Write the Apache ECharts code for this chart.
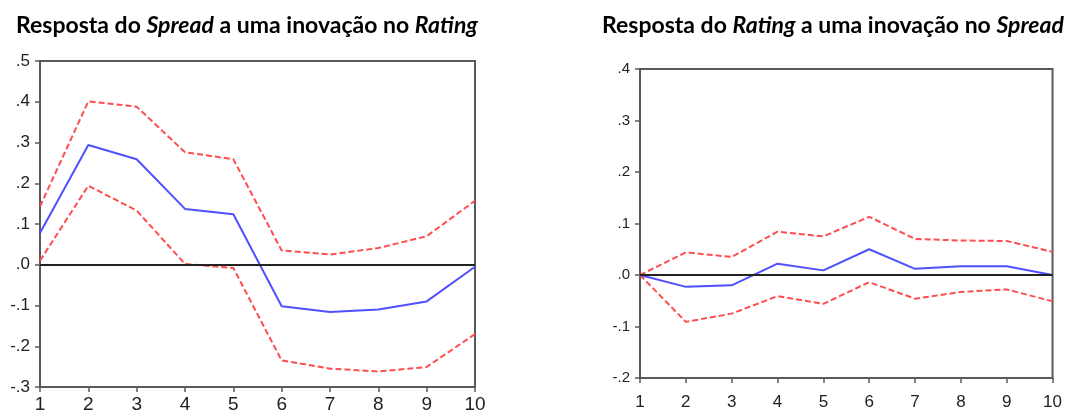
<!DOCTYPE html>
<html>
<head>
<meta charset="utf-8">
<script src="https://cdn.jsdelivr.net/npm/echarts@6/dist/echarts.min.js"></script>
<style>
html,body{margin:0;padding:0;background:#fff;}
#chart{width:1065px;height:414px;}
</style>
</head>
<body>
<div id="chart"></div>
<script>
// Horizons (periods)
const periods = ['1','2','3','4','5','6','7','8','9','10'];

// Left panel: response of Spread to a Rating innovation
const spreadResp  = [0.078, 0.294, 0.259, 0.137, 0.124, -0.102, -0.116, -0.110, -0.090, -0.005];
const spreadUpper = [0.143, 0.401, 0.388, 0.276, 0.259, 0.035, 0.025, 0.041, 0.070, 0.157];
const spreadLower = [0.010, 0.194, 0.133, 0.002, -0.008, -0.235, -0.255, -0.262, -0.251, -0.170];

// Right panel: response of Rating to a Spread innovation
const ratingResp  = [0.000, -0.023, -0.020, 0.022, 0.009, 0.050, 0.012, 0.017, 0.017, 0.000];
const ratingUpper = [0.000, 0.044, 0.035, 0.084, 0.075, 0.113, 0.070, 0.067, 0.066, 0.045];
const ratingLower = [0.000, -0.091, -0.075, -0.041, -0.056, -0.014, -0.046, -0.033, -0.028, -0.051];

// Axis ranges
const leftYMin = -0.3, leftYMax = 0.5;
const rightYMin = -0.2, rightYMax = 0.4;
const yStep = 0.1;

const titleLeft  = 'Resposta do {i|Spread} a uma inovação no {i|Rating}';
const titleRight = 'Resposta do {i|Rating} a uma inovação no {i|Spread}';

const BLUE = '#5050ff';
const RED = '#ff4d4d';
const AXIS = '#5a5a5a';
const LABEL = '#222';

function fmt(v){
  let s = (Math.round(v*10)/10).toFixed(1);
  if (s === '-0.0') s = '0.0';
  return s.replace('0.', '.');
}

const titleStyle = {
  fontFamily: 'Lato', fontWeight: 'bold', fontSize: 23, color: '#000',
  rich: { i: { fontFamily: 'Lato', fontWeight: 'bold', fontStyle: 'italic', fontSize: 23, color: '#000' } }
};

function xAxisCfg(gi, fs, margin){
  return {
    type: 'category', gridIndex: gi, data: periods, boundaryGap: false,
    axisLine: { show: true, onZero: false, lineStyle: { color: AXIS, width: 2 } },
    axisTick: { show: true, inside: false, length: 5, lineStyle: { color: AXIS, width: 1.5 }, alignWithLabel: true },
    axisLabel: { show: true, color: LABEL, fontSize: fs, fontFamily: 'Liberation Sans', margin: margin, interval: 0 },
    splitLine: { show: false }
  };
}
function yAxisCfg(gi, min, max, fs){
  return {
    type: 'value', gridIndex: gi, min: min, max: max, interval: yStep,
    axisLine: { show: true, onZero: false, lineStyle: { color: AXIS, width: 2 } },
    axisTick: { show: true, inside: false, length: 5, lineStyle: { color: AXIS, width: 1.5 } },
    axisLabel: { show: true, color: LABEL, fontSize: fs, fontFamily: 'Liberation Sans', margin: 10, formatter: fmt },
    splitLine: { show: false }
  };
}
function lineSeries(xi, data, color, dashed, z){
  return {
    type: 'line', xAxisIndex: xi, yAxisIndex: xi, data: data,
    symbol: 'none', smooth: false, silent: true, z: z,
    lineStyle: { color: color, width: 2, type: dashed ? [6, 3] : 'solid' },
    animation: false
  };
}
function zeroLine(xi){
  return {
    type: 'line', xAxisIndex: xi, yAxisIndex: xi, data: [], silent: true, z: 1,
    markLine: { silent: true, symbol: ['none','none'], label: { show: false },
      lineStyle: { color: '#222', width: 2, type: 'solid' }, data: [{ yAxis: 0 }], animation: false },
    animation: false
  };
}

const chart = echarts.init(document.getElementById('chart'), null, { renderer: 'canvas' });
chart.setOption({
  backgroundColor: '#fff',
  animation: false,
  title: [
    { text: titleLeft, left: 11, top: 9, textStyle: titleStyle },
    { text: titleRight, left: 597, top: 9, textStyle: titleStyle }
  ],
  grid: [
    { left: 40, top: 61, width: 435, height: 326, show: true, borderColor: AXIS, borderWidth: 2, backgroundColor: '#fff' },
    { left: 640, top: 69, width: 414, height: 309, show: true, borderColor: AXIS, borderWidth: 2, backgroundColor: '#fff' }
  ],
  xAxis: [
    xAxisCfg(0, 19, 8),
    xAxisCfg(1, 17, 16)
  ],
  yAxis: [
    yAxisCfg(0, leftYMin, leftYMax, 17),
    yAxisCfg(1, rightYMin, rightYMax, 15)
  ],
  series: [
    zeroLine(0),
    lineSeries(0, spreadUpper, RED, true, 3),
    lineSeries(0, spreadLower, RED, true, 3),
    lineSeries(0, spreadResp, BLUE, false, 4),
    zeroLine(1),
    lineSeries(1, ratingUpper, RED, true, 3),
    lineSeries(1, ratingLower, RED, true, 3),
    lineSeries(1, ratingResp, BLUE, false, 4)
  ]
});
</script>
</body>
</html>
